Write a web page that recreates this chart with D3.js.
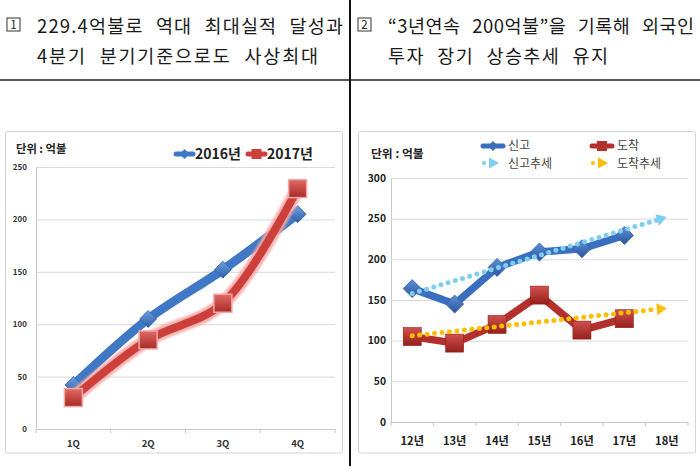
<!DOCTYPE html>
<html><head><meta charset="utf-8">
<script src="https://cdn.jsdelivr.net/npm/d3@7"></script>
<style>body{margin:0;background:#fff} svg{display:block;font-family:"Noto Sans CJK KR","Noto Sans",sans-serif}</style>
</head><body><svg id="c" width="700" height="466"></svg>
<script>
// ---------- data ----------
const quarters = ["1Q", "2Q", "3Q", "4Q"];
const values2016 = [42, 105, 152, 205];
const values2017 = [30, 85, 120, 229.4];
const leftYTicks = [0, 50, 100, 150, 200, 250];

const years = ["12년", "13년", "14년", "15년", "16년", "17년", "18년"];
const filedValues = [164, 145, 190, 209, 213, 229.4];     // 신고
const arrivedValues = [105, 97, 120, 156, 113, 127];      // 도착
const trendYears = ["12년", "18년"];
const filedTrend = [158, 252];                              // 신고추세
const arrivedTrend = [106, 140];                            // 도착추세
const rightYTicks = [0, 50, 100, 150, 200, 250, 300];

const header1 = ["229.4억불로 역대 최대실적 달성과", "4분기 분기기준으로도 사상최대"];
const header2 = ["“3년연속 200억불”을 기록해 외국인", "투자 장기 상승추세 유지"];

// ---------- drawing ----------
const svg = d3.select("#c");
const defs = svg.append("defs");
function grad(id, c1, c2) {
  const g = defs.append("linearGradient").attr("id", id).attr("x1", 0).attr("y1", 0).attr("x2", 0).attr("y2", 1);
  g.append("stop").attr("offset", "0%").attr("stop-color", c1);
  g.append("stop").attr("offset", "100%").attr("stop-color", c2);
}
grad("gBlue", "#6fa0e0", "#2d5fa8");
grad("gRed", "#e06a66", "#a82a26");
grad("gBlue2", "#5f8fd6", "#2a559e");
grad("gRed2", "#d2504c", "#951f1c");
const glow = defs.append("filter").attr("id", "glow").attr("x", "-20%").attr("y", "-20%").attr("width", "140%").attr("height", "140%");
glow.append("feGaussianBlur").attr("stdDeviation", 1.2);

// table lines
svg.append("line").attr("x1", 0).attr("x2", 700).attr("y1", 80).attr("y2", 80).attr("stroke", "#222").attr("stroke-width", 1.6);
svg.append("line").attr("x1", 350).attr("x2", 350).attr("y1", 0).attr("y2", 466).attr("stroke", "#111").attr("stroke-width", 2);

// headers
function header(x0, num, lines, widths) {
  svg.append("rect").attr("x", x0).attr("y", 18).attr("width", 13).attr("height", 13)
    .attr("fill", "none").attr("stroke", "#333").attr("stroke-width", 1);
  svg.append("text").attr("x", x0 + 6.5).attr("y", 29).attr("text-anchor", "middle")
    .attr("font-size", 11.5).attr("fill", "#222").text(num);
  lines.forEach((t, i) => {
    svg.append("text").attr("x", x0 + 30).attr("y", 33 + i * 29.5)
      .attr("font-size", 18.5).attr("fill", "#1a1a1a").attr("word-spacing", 7)
      .attr("textLength", widths[i]).attr("lengthAdjust", "spacing").text(t);
  });
}
header(7, "1", header1, [306, 281]);
header(358, "2", header2, [306, 220]);

// chart frames
svg.append("rect").attr("x", 5.5).attr("y", 131.5).attr("width", 337).attr("height", 321.5)
  .attr("fill", "#fff").attr("stroke", "#d4d4d4").attr("rx", 2);
svg.append("rect").attr("x", 358.5).attr("y", 131.5).attr("width", 337).attr("height", 321.5)
  .attr("fill", "#fff").attr("stroke", "#d4d4d4").attr("rx", 2);

const diamond = s => `M0,${-s}L${s},0L0,${s}L${-s},0Z`;

// ===== left chart =====
const xL = d3.scaleBand().domain(quarters).range([36, 335]);
const yL = d3.scaleLinear().domain([0, 250]).range([429, 167]);
const gl = svg.append("g");
const yAxL = gl.append("g").attr("transform", "translate(36,0)")
  .call(d3.axisLeft(yL).tickValues(leftYTicks).tickSizeInner(-(335 - 36)).tickSizeOuter(0).tickPadding(9));
yAxL.select(".domain").attr("stroke", "#c8c8c8");
yAxL.selectAll(".tick line").attr("stroke", "#d9d9d9");
yAxL.selectAll(".tick text").attr("font-size", 8).attr("font-weight", "bold").attr("fill", "#333")
  .attr("font-family", "'Noto Sans CJK KR',sans-serif");
const xAxL = gl.append("g").attr("transform", "translate(0,429)")
  .call(d3.axisBottom(xL).tickSize(0).tickPadding(11));
xAxL.select(".domain").attr("stroke", "#c8c8c8");
xAxL.selectAll(".tick text").attr("font-size", 9.5).attr("font-weight", "bold").attr("fill", "#333")
  .attr("font-family", "'Noto Sans CJK KR',sans-serif");
quarters.concat([null]).forEach((q, i) => {
  const x = q ? xL(q) : xL.range()[1];
  gl.append("line").attr("x1", x).attr("x2", x).attr("y1", 429).attr("y2", 433).attr("stroke", "#c8c8c8");
});

const lineL = d3.line().x(d => xL(d.k) + xL.bandwidth() / 2).y(d => yL(d.v)).curve(d3.curveCatmullRom.alpha(0.5));
const s2016 = quarters.map((k, i) => ({ k, v: values2016[i] }));
const s2017 = quarters.map((k, i) => ({ k, v: values2017[i] }));

gl.append("path").datum(s2016).attr("d", lineL).attr("fill", "none").attr("stroke", "#3f78c5").attr("stroke-width", 9).attr("stroke-linejoin", "round");
gl.selectAll(".d16").data(s2016).join("path")
  .attr("transform", d => `translate(${xL(d.k) + xL.bandwidth() / 2},${yL(d.v)})`)
  .attr("d", diamond(8.5)).attr("fill", "url(#gBlue)").attr("stroke", "#2e62ab").attr("stroke-width", 0.8);

gl.append("path").datum(s2017).attr("d", lineL).attr("fill", "none").attr("stroke", "#f1a9a7").attr("stroke-width", 14).attr("stroke-linejoin", "round").attr("filter", "url(#glow)").attr("opacity", 0.9);
gl.append("path").datum(s2017).attr("d", lineL).attr("fill", "none").attr("stroke", "#cc3f3b").attr("stroke-width", 8).attr("stroke-linejoin", "round");
gl.selectAll(".s17").data(s2017).join("rect")
  .attr("x", d => xL(d.k) + xL.bandwidth() / 2 - 9).attr("y", d => yL(d.v) - 9)
  .attr("width", 18).attr("height", 18).attr("fill", "url(#gRed)").attr("stroke", "#f1a9a7").attr("stroke-width", 1.5);

// left legend & unit
gl.append("text").attr("x", 16).attr("y", 153).attr("font-size", 11.3).attr("font-weight", "bold").attr("fill", "#222").text("단위 : 억불");
function legLine(g, x, y, w, color, marker, mcolor) {
  g.append("line").attr("x1", x).attr("x2", x + w).attr("y1", y).attr("y2", y).attr("stroke", color).attr("stroke-width", 5).attr("stroke-linecap", "round");
  if (marker === "d") g.append("path").attr("transform", `translate(${x + w / 2},${y})`).attr("d", diamond(5)).attr("fill", mcolor);
  else g.append("rect").attr("x", x + w / 2 - 5).attr("y", y - 5).attr("width", 10).attr("height", 10).attr("fill", mcolor);
}
legLine(gl, 176, 154, 17, "#3f78c5", "d", "#3f78c5");
gl.append("text").attr("x", 195).attr("y", 159).attr("font-size", 14).attr("font-weight", "bold").attr("fill", "#222").text("2016년");
legLine(gl, 248, 154, 17, "#cc3f3b", "s", "#cc3f3b");
gl.append("text").attr("x", 267).attr("y", 159).attr("font-size", 14).attr("font-weight", "bold").attr("fill", "#222").text("2017년");

// ===== right chart =====
const xR = d3.scaleBand().domain(years).range([391, 688]);
const yR = d3.scaleLinear().domain([0, 300]).range([422, 178]);
const gr = svg.append("g");
const yAxR = gr.append("g").attr("transform", "translate(391,0)")
  .call(d3.axisLeft(yR).tickValues(rightYTicks).tickSizeInner(-(688 - 391)).tickSizeOuter(0).tickPadding(5));
yAxR.select(".domain").attr("stroke", "#c8c8c8");
yAxR.selectAll(".tick line").attr("stroke", "#d9d9d9");
yAxR.selectAll(".tick text").attr("font-size", 10.3).attr("font-weight", "bold").attr("fill", "#222")
  .attr("font-family", "'Noto Sans CJK KR',sans-serif");
const xAxR = gr.append("g").attr("transform", "translate(0,422)")
  .call(d3.axisBottom(xR).tickSize(0).tickPadding(15));
xAxR.select(".domain").attr("stroke", "#c8c8c8");
xAxR.selectAll(".tick text").attr("font-size", 11.2).attr("font-weight", "bold").attr("fill", "#222")
  .attr("font-family", "'Noto Sans CJK KR',sans-serif");
years.concat([null]).forEach(k => {
  const x = k ? xR(k) : xR.range()[1];
  gr.append("line").attr("x1", x).attr("x2", x).attr("y1", 422).attr("y2", 426).attr("stroke", "#c8c8c8");
});

const cx = k => xR(k) + xR.bandwidth() / 2;
const lineR = d3.line().x(d => cx(d.k)).y(d => yR(d.v));
const sFiled = filedValues.map((v, i) => ({ k: years[i], v }));
const sArrived = arrivedValues.map((v, i) => ({ k: years[i], v }));
const tFiled = filedTrend.map((v, i) => ({ k: trendYears[i], v }));
const tArrived = arrivedTrend.map((v, i) => ({ k: trendYears[i], v }));

function trend(data, color) {
  const a = data[0], b = data[data.length - 1];
  const x1 = cx(a.k), y1 = yR(a.v), x2 = cx(b.k), y2 = yR(b.v);
  const ang = Math.atan2(y2 - y1, x2 - x1);
  const L = 10;
  const bx = x2 - L * Math.cos(ang), by = y2 - L * Math.sin(ang);
  gr.append("line").attr("x1", x1).attr("y1", y1).attr("x2", bx).attr("y2", by)
    .attr("stroke", color).attr("stroke-width", 5).attr("stroke-linecap", "round").attr("stroke-dasharray", "0,7.5");
  const px = -Math.sin(ang) * 6, py = Math.cos(ang) * 6;
  gr.append("path").attr("d", `M${x2},${y2}L${bx + px},${by + py}L${bx - px},${by - py}Z`).attr("fill", color);
}

// blue series
gr.append("path").datum(sFiled).attr("d", lineR).attr("fill", "none").attr("stroke", "#3a6fc0").attr("stroke-width", 7.5).attr("stroke-linejoin", "round");
gr.selectAll(".dF").data(sFiled).join("path")
  .attr("transform", d => `translate(${cx(d.k)},${yR(d.v)})`)
  .attr("d", diamond(9)).attr("fill", "url(#gBlue2)").attr("stroke", "#2f5ea8").attr("stroke-width", 0.8);
trend(tFiled, "#7ccff0");

// red series
gr.append("path").datum(sArrived).attr("d", lineR).attr("fill", "none").attr("stroke", "#b3302d").attr("stroke-width", 7.5).attr("stroke-linejoin", "round");
gr.selectAll(".sA").data(sArrived).join("rect")
  .attr("x", d => cx(d.k) - 9).attr("y", d => yR(d.v) - 9).attr("width", 18).attr("height", 18)
  .attr("fill", "url(#gRed2)").attr("stroke", "#8f1f1c").attr("stroke-width", 0.6);
trend(tArrived, "#ffbf00");

// right legend & unit
gr.append("text").attr("x", 371).attr("y", 158).attr("font-size", 11.8).attr("font-weight", "bold").attr("fill", "#222").text("단위 : 억불");
legLine(gr, 483, 146, 20, "#3a6fc0", "d", "#3a6fc0");
gr.append("text").attr("x", 508).attr("y", 150).attr("font-size", 12).attr("fill", "#444").text("신고");
legLine(gr, 592, 146, 20, "#b3302d", "s", "#b3302d");
gr.append("text").attr("x", 617).attr("y", 150).attr("font-size", 12).attr("fill", "#444").text("도착");
function legTrend(x, y, color) {
  gr.append("circle").attr("cx", x).attr("cy", y).attr("r", 2).attr("fill", color);
  gr.append("path").attr("d", `M${x + 5},${y - 5.5}L${x + 15},${y}L${x + 5},${y + 5.5}Z`).attr("fill", color);
}
legTrend(484, 163, "#7ccff0");
gr.append("text").attr("x", 508).attr("y", 168).attr("font-size", 12).attr("fill", "#444").text("신고추세");
legTrend(593, 163, "#ffbf00");
gr.append("text").attr("x", 617).attr("y", 168).attr("font-size", 12).attr("fill", "#444").text("도착추세");
</script></body></html>
